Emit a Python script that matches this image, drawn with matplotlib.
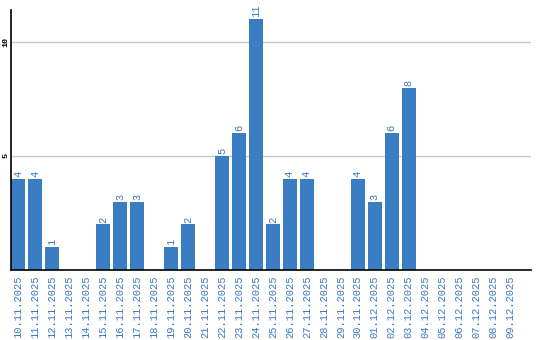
import matplotlib
matplotlib.use("Agg")
import matplotlib.pyplot as plt

dates = ["10.11.2025","11.11.2025","12.11.2025","13.11.2025","14.11.2025","15.11.2025",
         "16.11.2025","17.11.2025","18.11.2025","19.11.2025","20.11.2025","21.11.2025",
         "22.11.2025","23.11.2025","24.11.2025","25.11.2025","26.11.2025","27.11.2025",
         "28.11.2025","29.11.2025","30.11.2025","01.12.2025","02.12.2025","03.12.2025",
         "04.12.2025","05.12.2025","06.12.2025","07.12.2025","08.12.2025","09.12.2025"]
counts = [4,4,1,0,0,2,3,3,0,1,2,0,5,6,11,2,4,4,0,0,4,3,6,8,0,0,0,0,0,0]
yticks = [5, 10]

blue = "#3a7dc2"
label_blue = "#3a78c0"
font = "Liberation Mono"

fig = plt.figure(figsize=(5.4, 3.4), dpi=100)
ax = fig.add_axes([11/540, 70/340, 520/540, 260/340])
x = list(range(len(dates)))
ax.bar(x, counts, width=0.82, color=blue, zorder=3)
for xi, v in zip(x, counts):
    if v > 0:
        ax.text(xi, v + 0.08, str(v), rotation=90, ha="center", va="bottom",
                fontsize=7.5, color=label_blue, family=font)

ax.set_xlim(-0.42, 30.2)
ax.set_ylim(0, 11.4)
ax.set_yticks(yticks)
ax.set_yticklabels([str(t) for t in yticks], rotation=90, va="center",
                   fontsize=6, family=font, weight="bold", color="black")
ax.set_xticks(x)
ax.set_xticklabels(dates, rotation=90, fontsize=7.5, family=font, color=label_blue)
ax.tick_params(axis="x", length=0, pad=4)
ax.tick_params(axis="y", length=0, pad=1)
ax.grid(axis="y", color="#c8c8c8", linewidth=1, zorder=0)
for s in ["top", "right"]:
    ax.spines[s].set_visible(False)
ax.spines["left"].set_color("black")
ax.spines["bottom"].set_color("black")
ax.spines["left"].set_linewidth(1.2)
ax.spines["bottom"].set_linewidth(1.2)
ax.spines["left"].set_zorder(4)
ax.spines["bottom"].set_zorder(4)

fig.savefig("out.png", dpi=100)
